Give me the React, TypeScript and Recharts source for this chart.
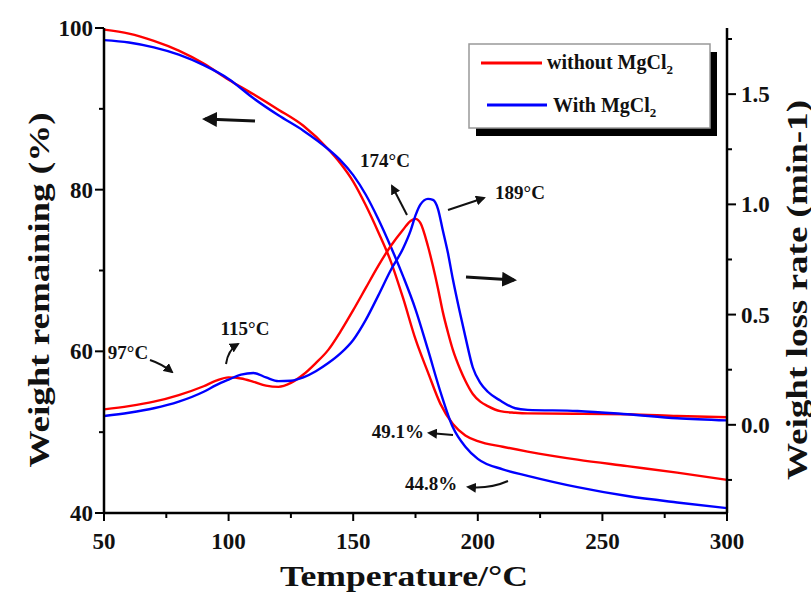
import React from 'react';
import { LineChart, Line, XAxis, YAxis, Legend } from 'recharts';

const SERIF = '"Liberation Serif", "Times New Roman", serif';

// TG curves: weight remaining (%)
const tgTemps = [50, 60, 70, 80, 90, 100, 110, 120, 130, 140, 145, 150, 155, 160, 165, 170, 175, 180, 185, 190, 195, 200, 210, 220, 240, 260, 280, 300];
const tgWithout = [99.8, 99.3, 98.4, 97.2, 95.6, 93.6, 91.8, 89.9, 87.9, 85.0, 83.2, 81.0, 78.1, 74.8, 71.2, 66.6, 61.5, 57.4, 53.5, 51.0, 49.6, 48.9, 48.2, 47.6, 46.6, 45.8, 45.0, 44.1];
const tgWith = [98.5, 98.2, 97.6, 96.7, 95.4, 93.7, 91.3, 89.2, 87.3, 85.0, 83.6, 81.8, 79.4, 76.4, 73.0, 69.3, 65.2, 60.2, 55.0, 50.6, 48.2, 46.7, 45.4, 44.6, 43.2, 42.1, 41.3, 40.6];

// DTG curves: weight loss rate (min-1)
const dtgTemps = [50, 60, 70, 80, 90, 95, 100, 105, 110, 115, 120, 125, 130, 135, 140, 145, 150, 155, 160, 165, 170, 173, 175, 177, 180, 182, 184, 186, 188, 190, 193, 195, 198, 201, 204, 209, 215, 220, 240, 260, 280, 300];
const dtgWithout = [0.07, 0.085, 0.105, 0.135, 0.175, 0.2, 0.215, 0.21, 0.195, 0.178, 0.172, 0.19, 0.228, 0.28, 0.34, 0.425, 0.52, 0.62, 0.72, 0.81, 0.885, 0.925, 0.934, 0.915, 0.81, 0.72, 0.62, 0.51, 0.42, 0.34, 0.25, 0.2, 0.14, 0.105, 0.085, 0.062, 0.055, 0.052, 0.05, 0.048, 0.04, 0.034];
const dtgWith = [0.04, 0.055, 0.075, 0.105, 0.15, 0.18, 0.205, 0.228, 0.235, 0.215, 0.198, 0.2, 0.215, 0.243, 0.28, 0.325, 0.385, 0.475, 0.585, 0.7, 0.8, 0.88, 0.95, 1.0, 1.025, 1.02, 0.98, 0.88, 0.78, 0.66, 0.5, 0.4, 0.26, 0.19, 0.15, 0.11, 0.075, 0.068, 0.063, 0.048, 0.03, 0.02];

const xTicks = [50, 75, 100, 125, 150, 175, 200, 225, 250, 275, 300];
const leftTicks = [40, 50, 60, 70, 80, 90, 100];
const rightTicks = [-0.25, 0, 0.25, 0.5, 0.75, 1, 1.25, 1.5, 1.75];

const toPoints = (temps: number[], vals: number[]) => temps.map((t, i) => ({ t, v: vals[i] }));

const labelStyle = { fontFamily: SERIF, fontWeight: 'bold' as const, fill: '#111' };

function BottomTick({ x, y, payload }: any) {
  const major = payload.value % 50 === 0;
  return (
    <g>
      <line x1={x} x2={x} y1={y} y2={y + (major ? 8 : 5)} stroke="#000" strokeWidth={2} />
      {major && (
        <text x={x} y={y + 28} dy="0.35em" textAnchor="middle" fontSize={23} {...labelStyle}>
          {payload.value}
        </text>
      )}
    </g>
  );
}

function LeftTick({ x, y, payload }: any) {
  const major = payload.value % 20 === 0;
  return (
    <g>
      <line x1={x} x2={x - (major ? 9 : 5)} y1={y} y2={y} stroke="#000" strokeWidth={2} />
      {major && (
        <text x={x - 11} y={y} dy="0.35em" textAnchor="end" fontSize={23} {...labelStyle}>
          {payload.value}
        </text>
      )}
    </g>
  );
}

function RightTick({ x, y, payload }: any) {
  const v = payload.value;
  const major = Math.abs(v * 2 - Math.round(v * 2)) < 1e-6;
  return (
    <g>
      <line x1={x} x2={x + (major ? 9 : 5)} y1={y} y2={y} stroke="#000" strokeWidth={2} />
      {major && (
        <text x={x + 14} y={y} dy="0.35em" textAnchor="start" fontSize={23} {...labelStyle}>
          {v.toFixed(1)}
        </text>
      )}
    </g>
  );
}

function LegendBox() {
  return (
    <svg width={262} height={100} style={{ display: 'block' }}>
      <rect x={10} y={12} width={241} height={84} fill="#000" />
      <rect x={3} y={4} width={241} height={84} fill="#fff" stroke="#999" strokeWidth={1.5} />
      <line x1={15} x2={76} y1={23} y2={23} stroke="#ff0000" strokeWidth={3} />
      <text x={81} y={29} fontSize={20} {...labelStyle}>
        without MgCl<tspan fontSize={13} dy={5}>2</tspan>
      </text>
      <line x1={21} x2={81} y1={65} y2={65} stroke="#0000ff" strokeWidth={3} />
      <text x={87} y={72} fontSize={20} {...labelStyle}>
        With MgCl<tspan fontSize={13} dy={5}>2</tspan>
      </text>
    </svg>
  );
}

function Annotations() {
  const t = { fontSize: 19, ...labelStyle };
  return (
    <svg width={811} height={594} style={{ position: 'absolute', left: 0, top: 0, pointerEvents: 'none' }}>
      <defs>
        <marker id="ah" viewBox="0 0 10 10" refX="8" refY="5" markerWidth="5" markerHeight="5" orient="auto">
          <path d="M0,0 L10,5 L0,10 z" fill="#111" />
        </marker>
      </defs>
      {/* axis titles */}
      <text transform="translate(38,290) rotate(-90)" textAnchor="middle" dy="0.35em" fontSize={30} textLength={355} lengthAdjust="spacingAndGlyphs" {...labelStyle}>
        Weight remaining (%)
      </text>
      <text transform="translate(796,290) rotate(-90)" textAnchor="middle" dy="0.35em" fontSize={30} textLength={380} lengthAdjust="spacingAndGlyphs" {...labelStyle}>
        Weight loss rate (min-1)
      </text>
      <text x={404} y={576} textAnchor="middle" dy="0.35em" fontSize={29} textLength={248} lengthAdjust="spacingAndGlyphs" {...labelStyle}>
        Temperature/°C
      </text>

      {/* direction arrows */}
      <line x1={255} y1={121} x2={205} y2={119} stroke="#111" strokeWidth={3} markerEnd="url(#ah)" />
      <line x1={466} y1={277} x2={514} y2={280} stroke="#111" strokeWidth={3} markerEnd="url(#ah)" />

      {/* peak labels */}
      <text x={385} y={167} textAnchor="middle" {...t}>174°C</text>
      <line x1={407} y1={215} x2={392} y2={186} stroke="#111" strokeWidth={2} markerEnd="url(#ah)" />
      <text x={520} y={199} textAnchor="middle" {...t}>189°C</text>
      <line x1={448} y1={210} x2={484} y2={198} stroke="#111" strokeWidth={2} markerEnd="url(#ah)" />

      <text x={128} y={359} textAnchor="middle" {...t}>97°C</text>
      <path d="M150,360 Q162,364 172,372" fill="none" stroke="#111" strokeWidth={2} markerEnd="url(#ah)" />
      <text x={245} y={335} textAnchor="middle" {...t}>115°C</text>
      <path d="M226,364 Q228,350 238,344" fill="none" stroke="#111" strokeWidth={2} markerEnd="url(#ah)" />

      <text x={424} y={438} textAnchor="end" {...t}>49.1%</text>
      <line x1={453} y1={435} x2={429} y2={433} stroke="#111" strokeWidth={2} markerEnd="url(#ah)" />
      <text x={405} y={490} textAnchor="start" {...t}>44.8%</text>
      <path d="M508,481 Q490,489 468,487" fill="none" stroke="#111" strokeWidth={2} markerEnd="url(#ah)" />
    </svg>
  );
}

export default function App() {
  return (
    <div style={{ position: 'absolute', left: 0, top: 0, width: 811, height: 594, background: '#fff' }}>
      <LineChart width={811} height={594} margin={{ top: 28, right: 24, bottom: 31, left: 44 }}>
        <XAxis
          type="number"
          dataKey="t"
          domain={[50, 300]}
          ticks={xTicks}
          interval={0}
          height={50}
          tickSize={0}
          tickMargin={0}
          tickLine={false}
          tick={<BottomTick />}
          axisLine={{ stroke: '#000', strokeWidth: 2.5 }}
          allowDataOverflow
        />
        <XAxis
          xAxisId="top"
          orientation="top"
          type="number"
          domain={[50, 300]}
          height={0}
          tick={false}
          tickLine={false}
          axisLine={{ stroke: '#000', strokeWidth: 2.5 }}
        />
        <YAxis
          yAxisId="left"
          type="number"
          domain={[40, 100]}
          ticks={leftTicks}
          interval={0}
          width={60}
          tickSize={0}
          tickMargin={0}
          tickLine={false}
          tick={<LeftTick />}
          axisLine={{ stroke: '#000', strokeWidth: 2.5 }}
          allowDataOverflow
        />
        <YAxis
          yAxisId="right"
          orientation="right"
          type="number"
          domain={[-0.4, 1.8]}
          ticks={rightTicks}
          interval={0}
          width={60}
          tickSize={0}
          tickMargin={0}
          tickLine={false}
          tick={<RightTick />}
          axisLine={{ stroke: '#000', strokeWidth: 2.5 }}
          allowDataOverflow
        />
        <Legend
          layout="horizontal"
          verticalAlign="middle"
          align="center"
          wrapperStyle={{ left: 466, top: 40, width: 262, height: 100 }}
          content={() => <LegendBox />}
        />
        <Line yAxisId="left" data={toPoints(tgTemps, tgWithout)} dataKey="v" name="without MgCl2" type="monotone" stroke="#ff0000" strokeWidth={2.4} dot={false} isAnimationActive={false} />
        <Line yAxisId="left" data={toPoints(tgTemps, tgWith)} dataKey="v" name="With MgCl2" type="monotone" stroke="#0000ff" strokeWidth={2.4} dot={false} isAnimationActive={false} />
        <Line yAxisId="right" data={toPoints(dtgTemps, dtgWithout)} dataKey="v" name="without MgCl2 DTG" type="monotone" stroke="#ff0000" strokeWidth={2.4} dot={false} isAnimationActive={false} legendType="none" />
        <Line yAxisId="right" data={toPoints(dtgTemps, dtgWith)} dataKey="v" name="With MgCl2 DTG" type="monotone" stroke="#0000ff" strokeWidth={2.4} dot={false} isAnimationActive={false} legendType="none" />
      </LineChart>
      <Annotations />
    </div>
  );
}
